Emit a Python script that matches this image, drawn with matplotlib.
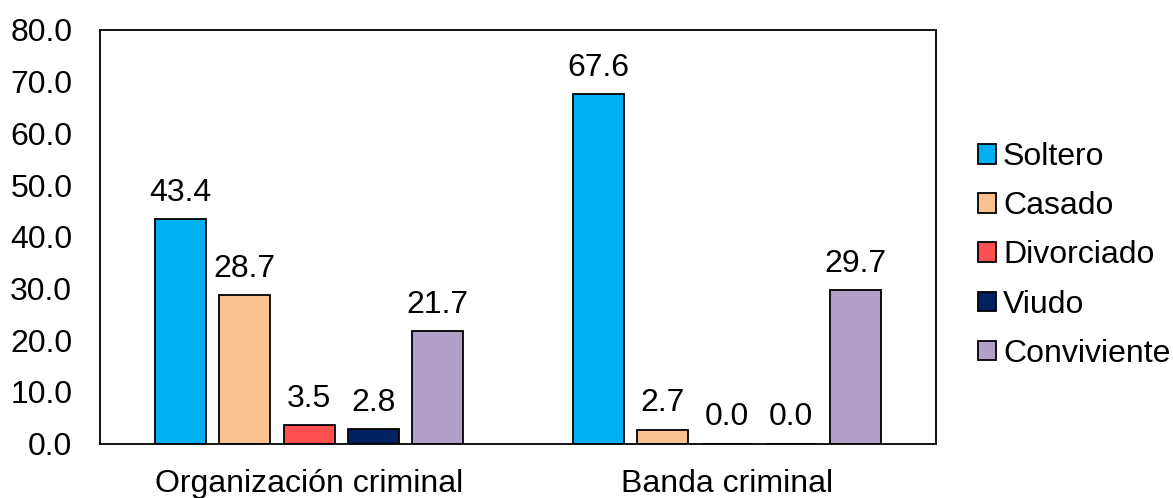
import matplotlib.pyplot as plt
import numpy as np

plt.rcParams['font.family'] = ['Liberation Sans', 'DejaVu Sans']

# datos
grupos = ['Organización criminal', 'Banda criminal']
estados = ['Soltero', 'Casado', 'Divorciado', 'Viudo', 'Conviviente']
valores = {
    'Soltero': [43.4, 67.6],
    'Casado': [28.7, 2.7],
    'Divorciado': [3.5, 0.0],
    'Viudo': [2.8, 0.0],
    'Conviviente': [21.7, 29.7],
}
colores = ['#00B0F0', '#F9C190', '#FF5050', '#002060', '#B1A0C7']

fs = 23

fig = plt.figure(figsize=(11.73, 4.98), dpi=100)
ax = fig.add_axes([0.0853, 0.1094, 0.7127, 0.8304])

x = np.arange(len(grupos))
paso = 0.1535
ancho = 0.122
for i, (est, col) in enumerate(zip(estados, colores)):
    barras = ax.bar(x + (i - 2) * paso, valores[est], ancho, color=col,
                    edgecolor='black', linewidth=1.3, label=est)
    ax.bar_label(barras, fmt='%.1f', padding=8, fontsize=fs)

ax.set_xlim(-0.5, 1.5)
ax.set_ylim(0, 80)
ax.set_yticks(np.arange(0, 81, 10))
ax.set_yticklabels([f'{v:.1f}' for v in np.arange(0, 81, 10)])
ax.set_xticks(x)
ax.set_xticklabels(grupos)
ax.tick_params(axis='both', length=0, labelsize=fs)
ax.tick_params(axis='y', pad=20)
ax.tick_params(axis='x', pad=18)
for s in ax.spines.values():
    s.set_linewidth(1.3)

fig.legend(loc='center left', bbox_to_anchor=(978 / 1173, 0.487),
           frameon=False, fontsize=fs, borderpad=0, borderaxespad=0,
           handlelength=0.56, handleheight=0.56, handletextpad=0.22,
           labelspacing=0.6)

plt.savefig('out.png', dpi=100)
